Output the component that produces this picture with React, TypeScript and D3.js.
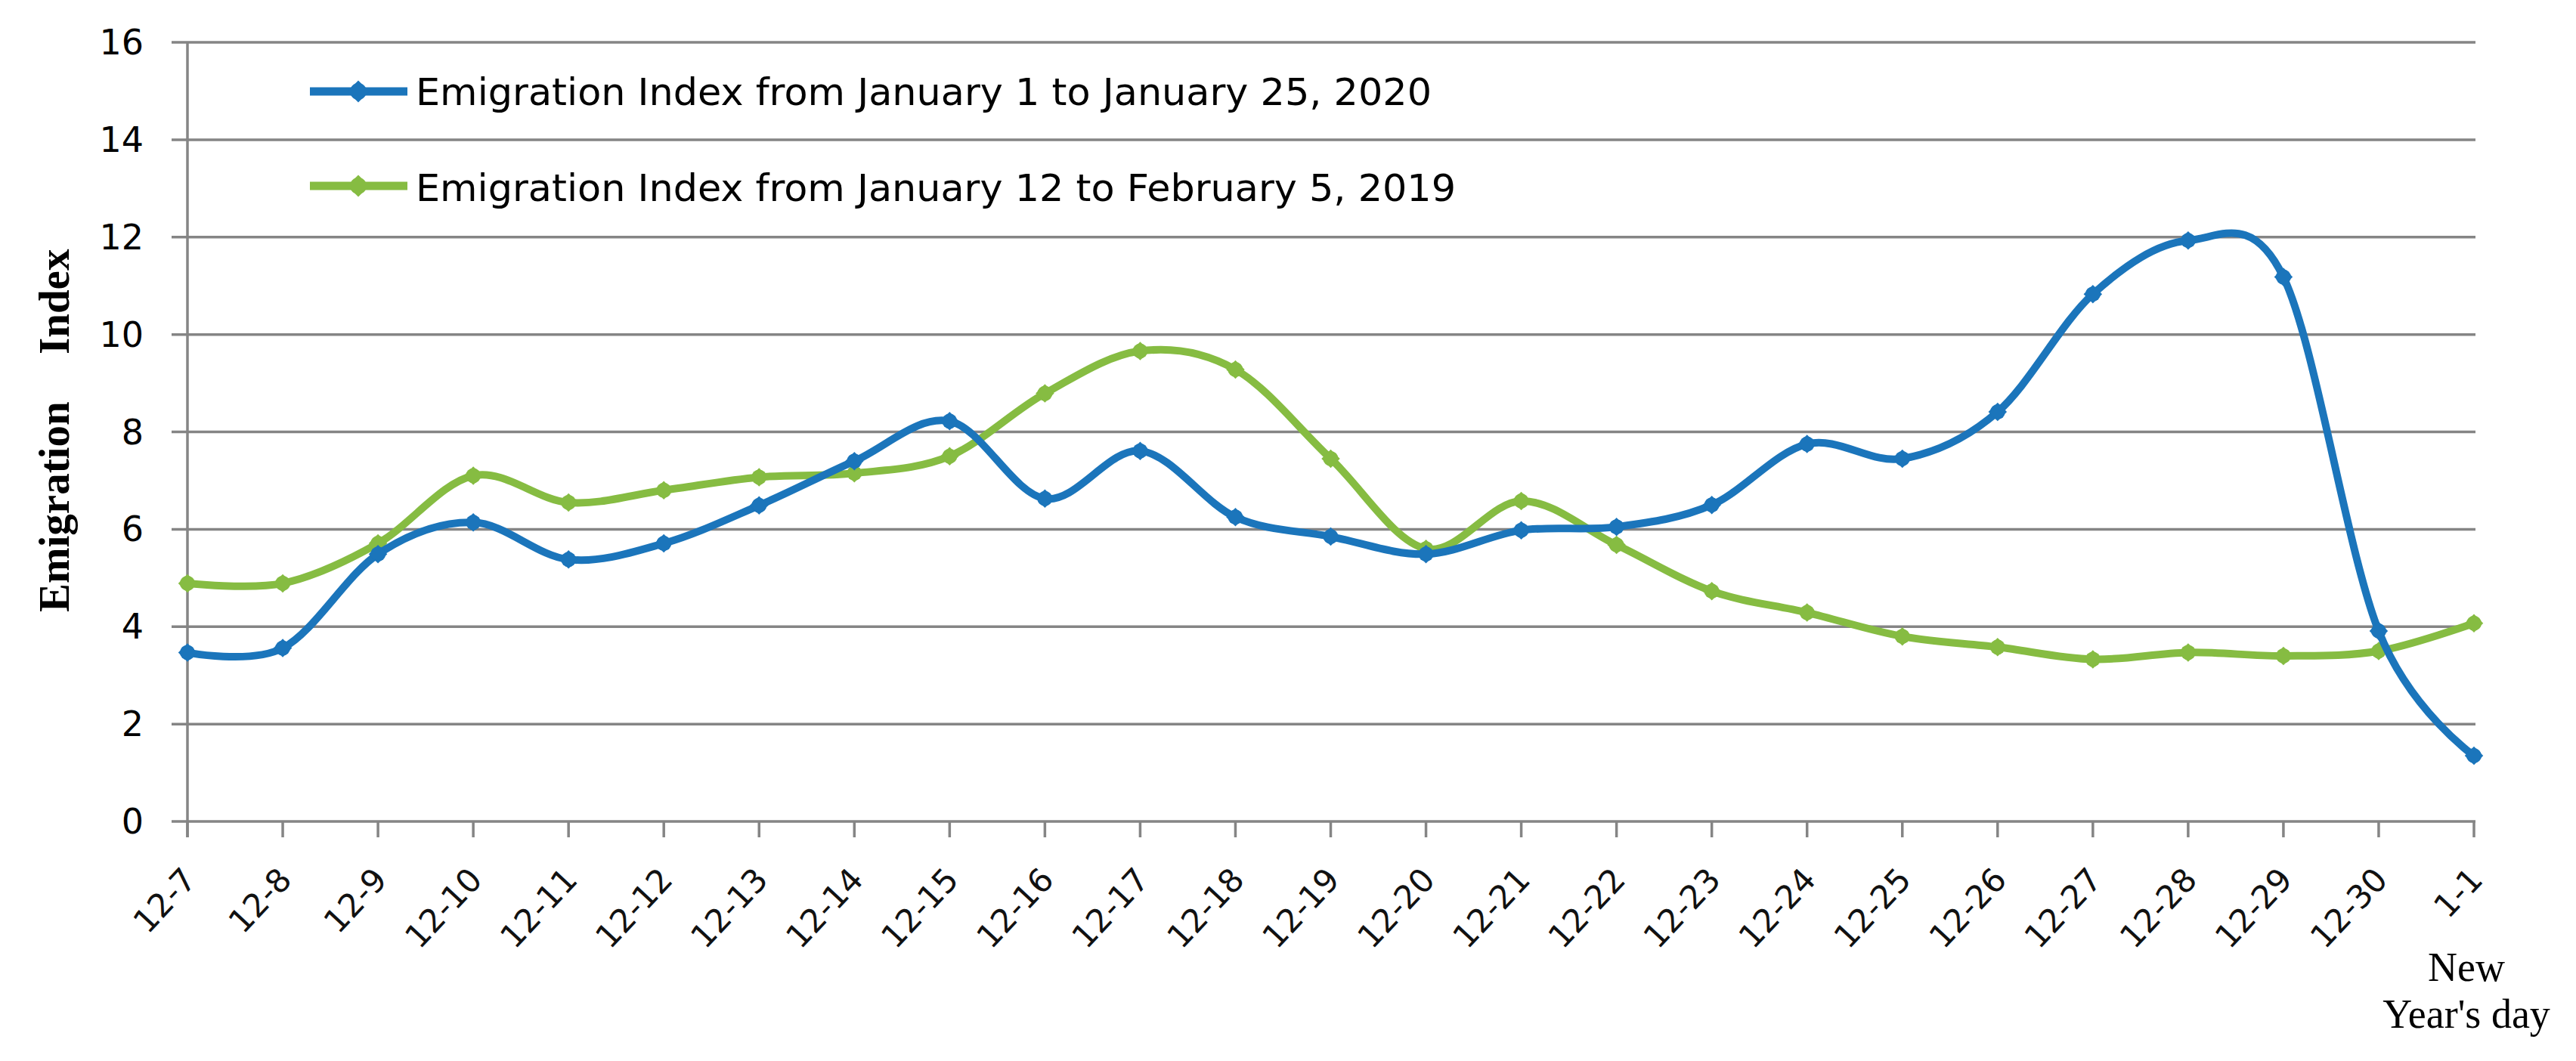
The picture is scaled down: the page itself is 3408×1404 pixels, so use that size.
import React from "react";
import * as d3 from "d3";

const categories = ["12-7","12-8","12-9","12-10","12-11","12-12","12-13","12-14","12-15","12-16","12-17","12-18","12-19","12-20","12-21","12-22","12-23","12-24","12-25","12-26","12-27","12-28","12-29","12-30","1-1"];
const series2020 = [3.47, 3.56, 5.49, 6.14, 5.38, 5.71, 6.49, 7.40, 8.22, 6.63, 7.61, 6.25, 5.85, 5.49, 5.98, 6.05, 6.50, 7.75, 7.45, 8.41, 10.83, 11.93, 11.18, 3.91, 1.35];
const series2019 = [4.89, 4.89, 5.71, 7.10, 6.55, 6.80, 7.07, 7.15, 7.50, 8.79, 9.66, 9.28, 7.45, 5.60, 6.58, 5.68, 4.73, 4.29, 3.80, 3.58, 3.33, 3.47, 3.40, 3.50, 4.07];
const yTicks = [0, 2, 4, 6, 8, 10, 12, 14, 16];
const legendLabels = [
  "Emigration Index from January 1 to January 25, 2020",
  "Emigration Index from January 12 to February 5, 2019",
];

const W = 3408;
const H = 1404;
const BLUE = "#1b75bb";
const GREEN = "#86bc42";
const GRID = "#858585";

export default function App() {
  const x = d3.scalePoint<string>().domain(categories).range([248, 3273]);
  const y = d3.scaleLinear().domain([0, 16]).range([1087, 56]);
  const line = d3
    .line<number>()
    .x((_, i) => x(categories[i]) as number)
    .y((d) => y(d))
    .curve(d3.curveCardinal.tension(0));
  const marker = d3.symbol().type(d3.symbolSquare).size(300)();
  const legMarker = d3.symbol().type(d3.symbolSquare).size(420)();

  const seriesList = [
    { data: series2020, color: BLUE, label: legendLabels[0], ly: 121, ty: 139 },
    { data: series2019, color: GREEN, label: legendLabels[1], ly: 246, ty: 266 },
  ];

  return (
    <svg width={W} height={H} style={{ position: "absolute", left: 0, top: 0, background: "#fff" }}>
      {yTicks.map((t) => (
        <g key={t}>
          <line x1={227} x2={3275} y1={y(t)} y2={y(t)} stroke={GRID} strokeWidth={3.5} />
          <text
            x={190}
            y={y(t) + 16}
            textAnchor="end"
            fontFamily="DejaVu Sans, Verdana, sans-serif"
            fontSize={46}
            fill="#000"
          >
            {t}
          </text>
        </g>
      ))}
      <line x1={248} x2={248} y1={56} y2={1108} stroke={GRID} strokeWidth={3.5} />
      {categories.map((c) => {
        const cx = x(c) as number;
        return (
          <g key={c}>
            <line x1={cx} x2={cx} y1={1087} y2={1108} stroke={GRID} strokeWidth={3.5} />
            <text
              transform={`translate(${cx + 14},${1166}) rotate(-47)`}
              textAnchor="end"
              fontFamily="DejaVu Sans, Verdana, sans-serif"
              fontSize={43}
              fill="#111"
            >
              {c}
            </text>
          </g>
        );
      })}
      <text x={3263} y={1298} textAnchor="middle" fontFamily="Liberation Serif, Times New Roman, serif" fontSize={54} fill="#000">
        New
      </text>
      <text x={3263} y={1360} textAnchor="middle" fontFamily="Liberation Serif, Times New Roman, serif" fontSize={54} fill="#000">
        Year's day
      </text>
      <text
        transform="translate(91,810) rotate(-90)"
        fontFamily="Liberation Serif, Times New Roman, serif"
        fontWeight="bold"
        fontSize={57}
        fill="#000"
      >
        Emigration
      </text>
      <text
        transform="translate(91,469) rotate(-90)"
        fontFamily="Liberation Serif, Times New Roman, serif"
        fontWeight="bold"
        fontSize={57}
        fill="#000"
      >
        Index
      </text>
      {seriesList.slice().reverse().map((s) => (
        <g key={s.label}>
          <path d={line(s.data) || ""} fill="none" stroke={s.color} strokeWidth={10} strokeLinejoin="round" />
          {s.data.map((v, i) => (
            <g key={i} transform={`translate(${x(categories[i])},${y(v)})`}>
              <circle r={10} fill={s.color} />
              <path d={marker || ""} transform="rotate(45)" fill={s.color} />
            </g>
          ))}
        </g>
      ))}
      {seriesList.map((s) => (
        <g key={"leg" + s.label}>
          <line x1={410} x2={539} y1={s.ly} y2={s.ly} stroke={s.color} strokeWidth={11} />
          <circle cx={474} cy={s.ly} r={11} fill={s.color} />
          <path d={legMarker || ""} transform={`translate(474,${s.ly}) rotate(45)`} fill={s.color} />
          <text
            x={550}
            y={s.ty}
            fontFamily="DejaVu Sans, Verdana, sans-serif"
            fontSize={49}
            textLength={s === seriesList[0] ? 1344 : 1376}
            lengthAdjust="spacingAndGlyphs"
            fill="#000"
          >
            {s.label}
          </text>
        </g>
      ))}
    </svg>
  );
}
